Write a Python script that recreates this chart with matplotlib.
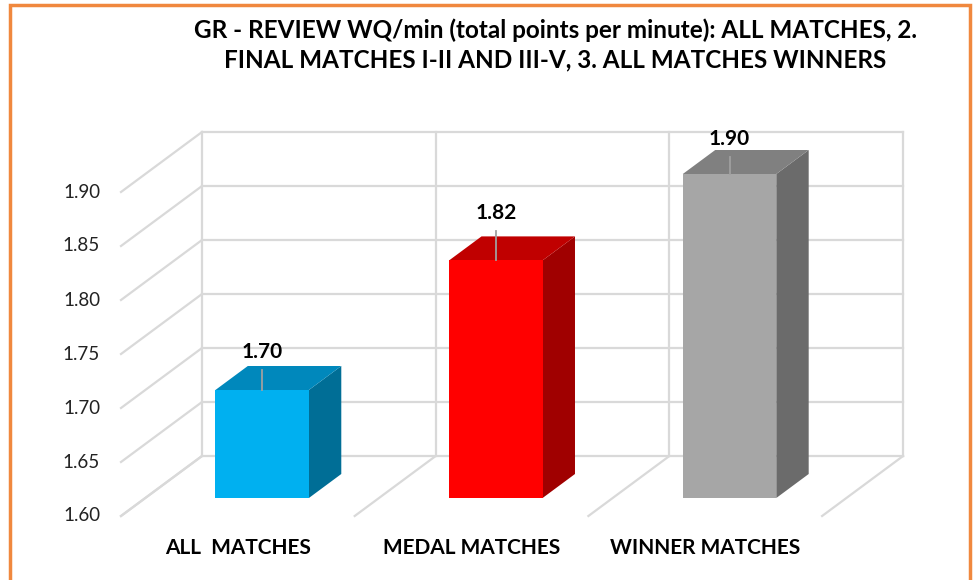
import matplotlib.pyplot as plt
from matplotlib.patches import Polygon, Rectangle

# data
categories = ['ALL  MATCHES', 'MEDAL MATCHES', 'WINNER MATCHES']
values = [1.70, 1.82, 1.90]
value_labels = ['1.70', '1.82', '1.90']
yticks = [1.60, 1.65, 1.70, 1.75, 1.80, 1.85, 1.90]
title = ('GR - REVIEW WQ/min (total points per minute): ALL MATCHES, 2.\n'
         'FINAL MATCHES I-II AND III-V, 3. ALL MATCHES WINNERS')

# colours per bar: front, top, side
face_cols = ['#00B0F0', '#FF0000', '#A6A6A6']
top_cols = ['#0088BC', '#C00000', '#808080']
side_cols = ['#006E96', '#A00000', '#6B6B6B']

W, H = 977, 580
fig = plt.figure(figsize=(W / 100, H / 100), dpi=100)
ax = fig.add_axes([0, 0, 1, 1])
ax.axis('off')

# layout of the fake 3d box (pixels)
px_cat = 233.7       # pixels per category
px_val = 1080.0      # pixels per value unit
left_back = 202      # pixel x of back-left corner
base_front = 516     # pixel y of 1.60 on the front plane
DX = 81 / px_cat     # depth shift in category units
DY = 60 / px_val     # depth shift in value units

xmin = -0.5 - left_back / px_cat
ax.set_xlim(xmin, xmin + W / px_cat)
ymin = yticks[0] - (H - base_front) / px_val
ax.set_ylim(ymin, ymin + H / px_val)


def proj(c, v, d):
    # d=0 front plane, d=1 back wall
    return c - (1 - d) * DX, v + d * DY


grid_col = '#D9D9D9'
vmin, vmax = yticks[0], yticks[-1]
edges = [-0.5, 0.5, 1.5, 2.5]

# back wall
for v in yticks:
    p1, p2 = proj(-0.5, v, 1), proj(2.5, v, 1)
    ax.plot([p1[0], p2[0]], [p1[1], p2[1]], color=grid_col, lw=1.6, zorder=1)
for c in edges:
    p1, p2 = proj(c, vmin, 1), proj(c, vmax, 1)
    ax.plot([p1[0], p2[0]], [p1[1], p2[1]], color=grid_col, lw=1.6, zorder=1)
# left wall
for v in yticks:
    p1, p2 = proj(-0.5, v, 0), proj(-0.5, v, 1)
    ax.plot([p1[0], p2[0]], [p1[1], p2[1]], color=grid_col, lw=1.6, zorder=1)
# floor
for c in edges:
    p1, p2 = proj(c, vmin, 0), proj(c, vmin, 1)
    ax.plot([p1[0], p2[0]], [p1[1], p2[1]], color=grid_col, lw=1.6, zorder=1)

# tick labels on the front plane
for v in yticks:
    x, y = proj(-0.5, v, 0)
    ax.annotate(f'{v:.2f}', (x, y), xytext=(-15, 0), textcoords='offset points',
                ha='right', va='center', fontsize=13.5, family='Lato', color='#222222')

# bars
bw = 0.40
d0, d1 = 0.3, 0.7
label_off = [38, 47, 35]   # px above front top edge
for i, v in enumerate(values):
    xl, xr = i - bw / 2, i + bw / 2
    front = [proj(xl, vmin, d0), proj(xr, vmin, d0), proj(xr, v, d0), proj(xl, v, d0)]
    top = [proj(xl, v, d0), proj(xr, v, d0), proj(xr, v, d1), proj(xl, v, d1)]
    side = [proj(xr, vmin, d0), proj(xr, vmin, d1), proj(xr, v, d1), proj(xr, v, d0)]
    ax.add_patch(Polygon(side, closed=True, fc=side_cols[i], ec='none', zorder=3))
    ax.add_patch(Polygon(top, closed=True, fc=top_cols[i], ec='none', zorder=3))
    ax.add_patch(Polygon(front, closed=True, fc=face_cols[i], ec='none', zorder=4))

    cx, cy = proj(i, v, d0)
    off = label_off[i]
    ax.annotate(value_labels[i], (cx, cy), xytext=(0, off * 0.72), textcoords='offset points',
                ha='center', va='center', fontsize=15, fontweight='bold', family='Lato',
                color='black', zorder=6)
    top_line = cy + (off - 18) / px_val
    ax.plot([cx, cx], [cy, top_line], color='#A0A0A0', lw=1.3, zorder=5)

# category labels
for i, name in enumerate(categories):
    x, y = proj(i, vmin, 0)
    ax.annotate(name, (x, y), xytext=(0, -23), textcoords='offset points',
                ha='center', va='center', fontsize=15, fontweight='bold', family='Lato')

fig.text(555 / W, 1 - 45 / H, title, ha='center', va='center', fontsize=17.5,
         fontweight='bold', family='Lato', linespacing=1.35)

fig.patches.append(Rectangle((10 / W, -0.05), 960 / W, 1 - 5 / H + 0.05,
                             transform=fig.transFigure, fill=False,
                             ec='#F0883E', lw=2.5))

fig.savefig('out.png', dpi=100)
